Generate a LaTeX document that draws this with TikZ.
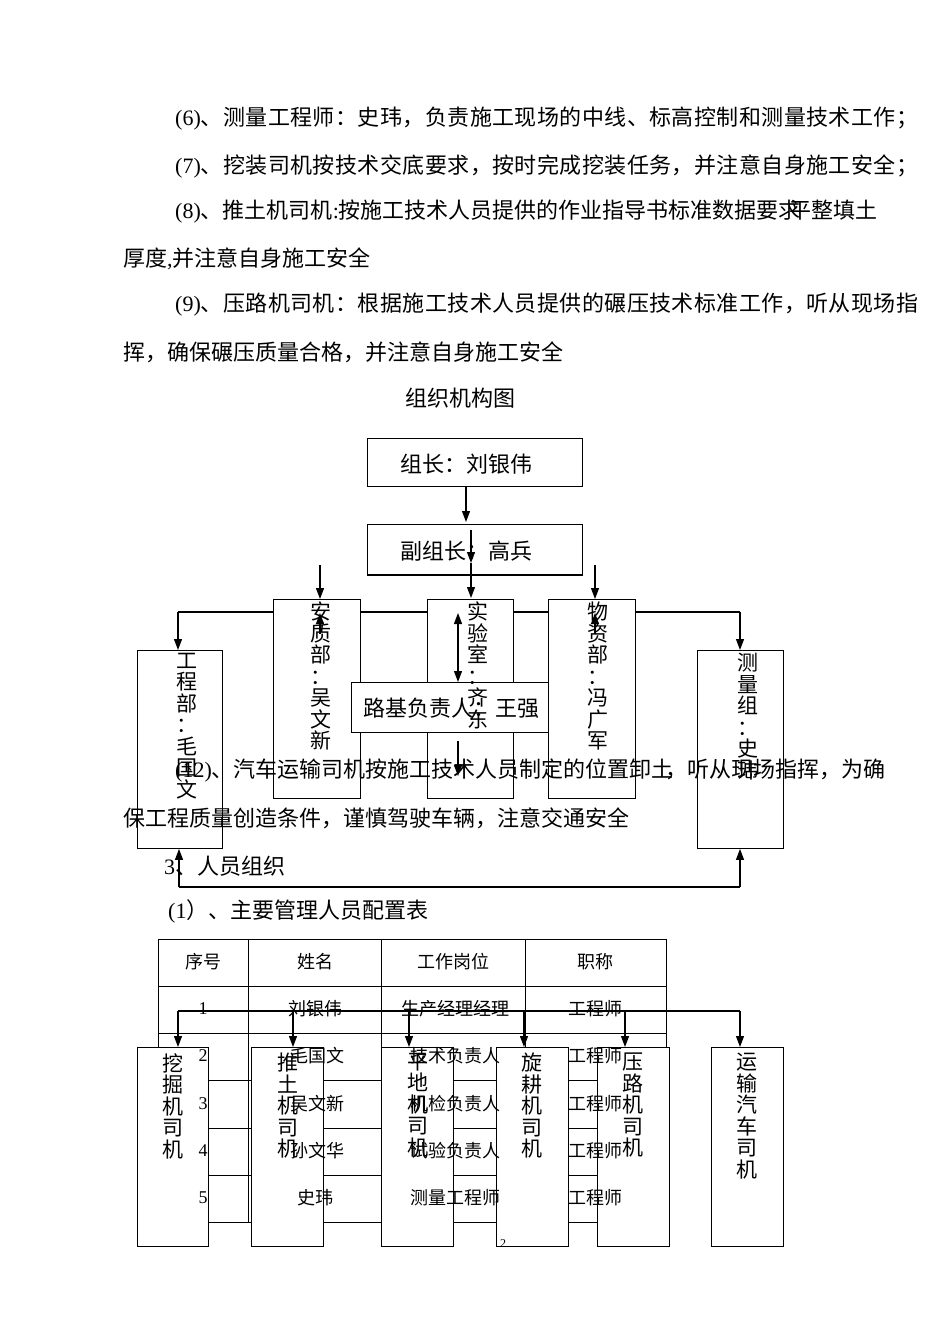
\documentclass[tikz,border=0pt]{standalone}
\usepackage{fontspec}
\setmainfont{Noto Sans CJK SC}
\newfontfamily\ser{Liberation Serif}
\usetikzlibrary{arrows.meta}
\makeatletter
\newcommand\jline[3]{\hbox to #1{{\ser #2}\@tfor\jc:=#3\do{\jc\hskip0pt plus 1fil}\unskip}}
\makeatother
\begin{document}
\begin{tikzpicture}[x=1pt,y=-1pt,
  box/.style={draw=black, line width=0.9pt, fill=white, inner sep=0pt, anchor=north west},
  para/.style={anchor=west, inner sep=0pt, font=\fontsize{22}{26}\selectfont},
  lbl/.style={anchor=west, inner sep=0pt, font=\fontsize{22}{26}\selectfont},
  vt/.style={inner sep=0pt, anchor=north, align=center, font=\fontsize{21}{21.5}\selectfont},
  tb/.style={inner sep=0pt, font=\fontsize{18}{20}\selectfont},
  tnum/.style={inner sep=0pt, font=\ser\fontsize{18}{20}\selectfont},
  tline/.style={draw=black, line width=0.8pt},
  arr/.style={line width=1.2pt, -{Triangle[length=11pt,width=8pt]}},
  darr/.style={line width=1.2pt, {Triangle[length=11pt,width=8pt]}-{Triangle[length=11pt,width=8pt]}},
  ln/.style={line width=1.2pt}]

\path[use as bounding box, fill=white] (0,0) rectangle (950,1344);

% ---------- paragraphs ----------
\node[para] (p6) at (175,119) {\jline{743pt}{(6)}{、测量工程师：史玮，负责施工现场的中线、标高控制和测量技术工作；}};
\node[para] (p7) at (175,166) {\jline{743pt}{(7)}{、挖装司机按技术交底要求，按时完成挖装任务，并注意自身施工安全；}};
\node[para] (p8) at (175,212) {{\ser (8)}、推土机司机{\ser :}按施工技术人员提供的作业指导书标准数据要求\kern-11pt 平整填土};
\node[para] (p8b) at (123,259) {厚度{\ser ,}并注意自身施工安全};
\node[para] (p9) at (175,305) {\jline{743pt}{(9)}{、压路机司机：根据施工技术人员提供的碾压技术标准工作，听从现场指}};
\node[para] (p9b) at (123,352) {挥，确保碾压质量合格，并注意自身施工安全};
\node[para, anchor=center] (title) at (460,398) {组织机构图};

% ---------- org chart ----------
\draw[ln] (178,612) -- (740,612);
\node[box, minimum width=215pt, minimum height=48pt] (zz) at (367,438) {};
\node[box, minimum width=215pt, minimum height=50pt] (fz) at (367,524) {};
\draw[line width=1.8pt] (fz.south west) -- (fz.south east);
\node[box, minimum width=87pt, minimum height=199pt] (aq) at (273,599) {};
\node[box, minimum width=86pt, minimum height=199pt] (sy) at (427,599) {};
\node[box, minimum width=87pt, minimum height=199pt] (wz) at (548,599) {};
\node[box, minimum width=85pt, minimum height=198pt] (gc) at (137,650) {};
\node[box, minimum width=86pt, minimum height=198pt] (cl) at (697,650) {};
\node[box, minimum width=197pt, minimum height=50pt] (lj) at (351,682) {};

\node[lbl] (tzz) at (400,464) {组长：刘银伟};
\node[lbl] (tfz) at (400,551) {副组长：高兵};
\node[lbl] (tlj) at (363,708) {路基负责人：王强};

\node[vt] (tgc) at (187,653) {工\\程\\部\\：\\毛\\国\\文};
\node[vt] (taq) at (321,602) {安\\质\\部\\：\\吴\\文\\新};
\node[vt] (tsy) at (478,602) {实\\验\\室\\：\\齐\\东};
\node[vt] (twz) at (598,602) {物\\资\\部\\：\\冯\\广\\军};
\node[vt] (tcl) at (748,653) {测\\量\\组\\：\\史\\玮};

\coordinate (a1) at (466,522);
\draw[arr] (466,486) -- (a1);
\coordinate (a2) at (471,563);
\draw[arr] (471,530) -- (a2);
\draw[arr] (a2) -- (471,598);
\draw[arr] (320,565) -- (aq.north -| 320,0);
\draw[arr] (595,565) -- (wz.north -| 595,0);
\draw[arr] (178,612) -- (gc.north -| 178,0);
\draw[arr] (740,612) -- (cl.north -| 740,0);
\draw[arr] (320,634) -- (320,613);
\draw[darr] (458,613) -- (lj.north -| 458,0);
\draw[arr] (lj.south -| 458,0) ++(0,8) -- (458,776);
\draw[arr] (595,634) -- (595,613);

% ---------- lower paragraphs ----------
\node[para] (p12) at (175,771) {{\ser (12)}、汽车运输司机按施工技术人员制定的位置卸土\kern-8pt，听从现场指挥，为确};
\node[para] (p12b) at (123,818) {保工程质量创造条件，谨慎驾驶车辆，注意交通安全};
\node[para] (s3) at (164,866) {{\ser 3}、人员组织};
\node[para] (s31) at (168,911) {{\ser (1}）、主要管理人员配置表};

\coordinate (b1) at (179,887);
\coordinate (b2) at (740,887);
\draw[ln] (b1) -- (b2);
\draw[arr] (b1) -- (gc.south -| b1);
\draw[arr] (b2) -- (cl.south -| b2);

% ---------- table ----------
\draw[tline] (158,939) rectangle (666,1222);
\foreach \xx in {248,381,525} \draw[tline] (\xx,939) -- (\xx,1222);
\foreach \yy in {986,1033,1080,1128,1175} \draw[tline] (158,\yy) -- (666,\yy);

% ---------- lower boxes ----------
\node[box, minimum width=71pt, minimum height=199pt] (wj) at (137,1047) {};
\node[box, minimum width=72pt, minimum height=199pt] (tt) at (251,1047) {};
\node[box, minimum width=72pt, minimum height=199pt] (pd) at (381,1047) {};
\node[box, minimum width=72pt, minimum height=199pt] (xg) at (496,1047) {};
\node[box, minimum width=72pt, minimum height=199pt] (yl) at (597,1047) {};
\node[box, minimum width=72pt, minimum height=199pt] (ys) at (711,1047) {};

% table text
\node[tb] (h1) at (203,962) {序号};
\node[tb] (h2) at (315,962) {姓名};
\node[tb] (h3) at (453,962) {工作岗位};
\node[tb] (h4) at (595,962) {职称};
\node[tnum] (n1) at (203,1009) {1};
\node[tnum] (n2) at (203,1056) {2};
\node[tnum] (n3) at (203,1104) {3};
\node[tnum] (n4) at (203,1151) {4};
\node[tnum] (n5) at (203,1198) {5};
\node[tb] (m1) at (315,1009) {刘银伟};
\node[tb] (m2) at (317,1056) {毛国文};
\node[tb] (m3) at (317,1104) {吴文新};
\node[tb] (m4) at (317,1151) {孙文华};
\node[tb] (m5) at (315,1198) {史玮};
\node[tb] (g1) at (455,1009) {生产经理经理};
\node[tb] (g2) at (455,1056) {技术负责人};
\node[tb] (g3) at (455,1104) {机检负责人};
\node[tb] (g4) at (455,1151) {试验负责人};
\node[tb] (g5) at (455,1198) {测量工程师};
\node[tb] (z1) at (595,1009) {工程师};
\node[tb] (z2) at (595,1056) {工程师};
\node[tb] (z3) at (595,1104) {工程师};
\node[tb] (z4) at (595,1151) {工程师};
\node[tb] (z5) at (595,1198) {工程师};

% lower box text
\node[vt] (twj) at (172.5,1053) {挖\\掘\\机\\司\\机};
\node[vt] (ttt) at (288,1053) {推\\土\\机\\司\\机};
\node[vt] (tpd) at (418,1053) {平\\地\\机\\司\\机};
\node[vt] (txg) at (532,1053) {旋\\耕\\机\\司\\机};
\node[vt] (tyl) at (633,1053) {压\\路\\机\\司\\机};
\node[vt] (tys) at (747,1053) {运\\输\\汽\\车\\司\\机};

% lower tree
\coordinate (c0) at (178,1011);
\coordinate (c5) at (740,1011);
\draw[ln] (c0) -- (c5);
\draw[arr] (c0) -- (wj.north -| c0);
\draw[arr] (293,1011) -- (tt.north -| 293,0);
\draw[arr] (409,1011) -- (pd.north -| 409,0);
\draw[arr] (524,1011) -- (xg.north -| 524,0);
\draw[arr] (625,1011) -- (yl.north -| 625,0);
\draw[arr] (c5) -- (ys.north -| c5);

\node[inner sep=0pt, font=\ser\fontsize{12}{14}\selectfont] (pg) at (503,1244) {2};
\end{tikzpicture}
\end{document}
